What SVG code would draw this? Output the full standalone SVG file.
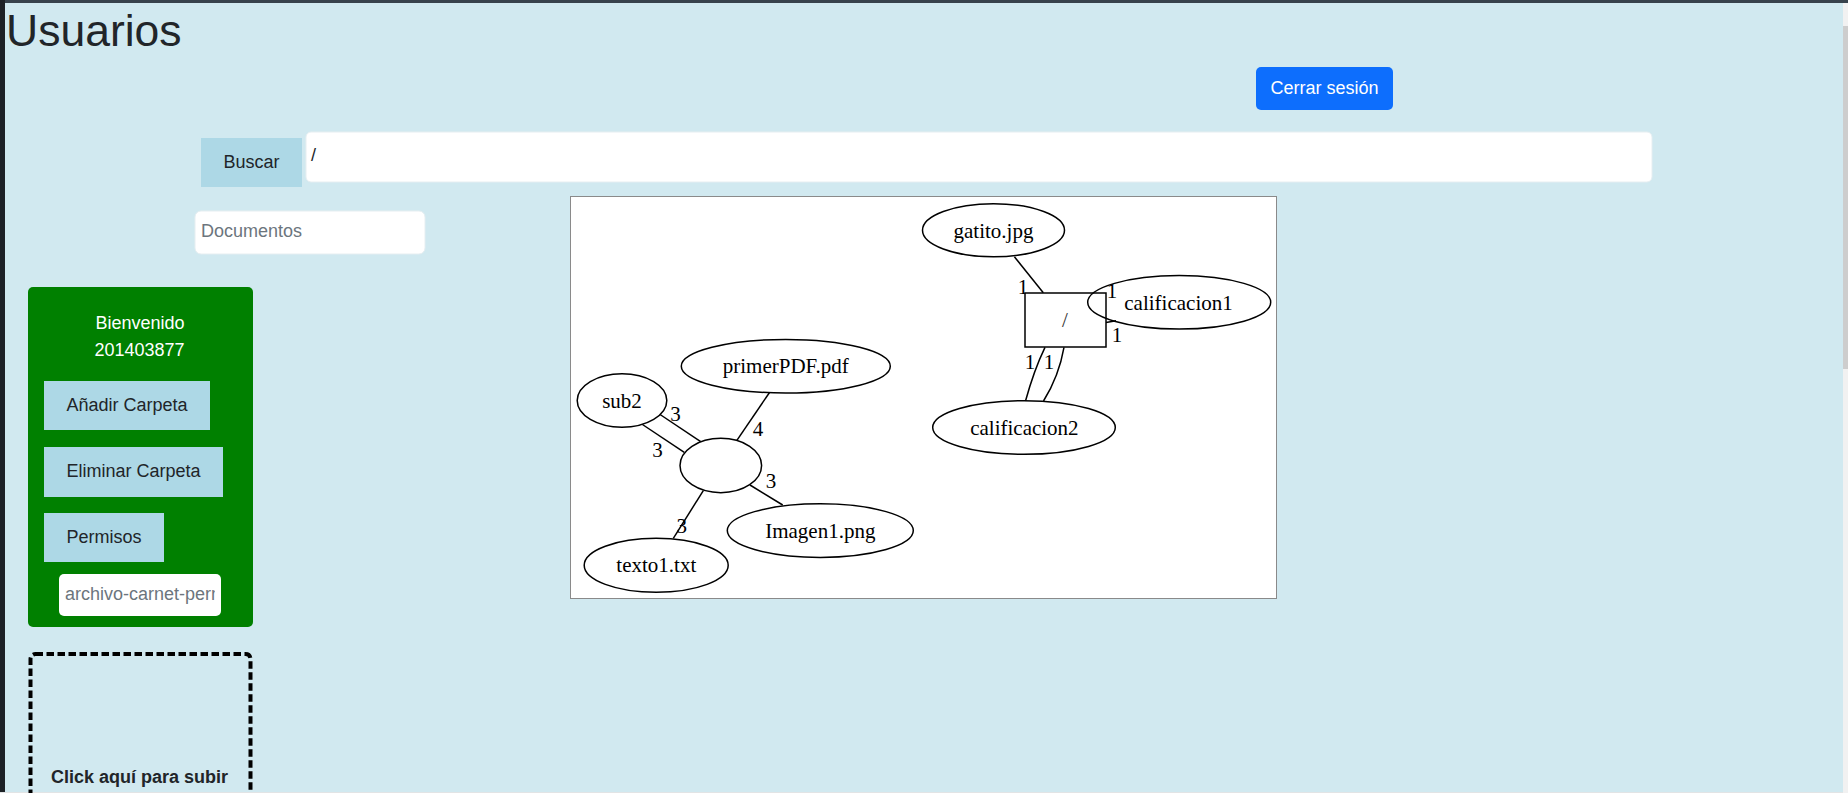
<svg xmlns="http://www.w3.org/2000/svg" width="1848" height="793" viewBox="0 0 1848 793">
<style>
.ui{font-family:"Liberation Sans",Arial,sans-serif;font-size:18px;fill:#212529}
.ctr{text-anchor:middle}
.btn{fill:#add8e6}
.inp{fill:#ffffff;stroke:#e6eef1;stroke-width:1}
.ph{fill:#6c757d}
.g{font-family:"Liberation Serif","Times New Roman",serif;font-size:21px;fill:#000;text-anchor:middle}
.nd{fill:#ffffff;stroke:#000;stroke-width:1.5}
.ed{fill:none;stroke:#000;stroke-width:1.5}
</style>
<defs>
<clipPath id="clipArch"><rect x="61" y="576" width="154" height="38"/></clipPath>
</defs>
<rect x="0" y="0" width="1848" height="793" fill="#d1e9f0"/>
<rect x="0" y="0" width="1848" height="3" fill="#37424c"/>
<rect x="0" y="0" width="5" height="793" fill="#1d2126"/>
<rect x="1843" y="3" width="5" height="790" fill="#f1f1f1"/>
<rect x="1843" y="26" width="5" height="343" fill="#cdcdcd"/>
<rect x="0" y="792" width="1843" height="1" fill="#e2e4e5"/>

<g id="title"><text class="ui" x="6" y="46" style="font-size:44.5px">Usuarios</text></g>

<g id="cerrar">
<rect x="1256" y="67" width="137" height="43" rx="5" fill="#0d6efd"/>
<text class="ui ctr" x="1324.5" y="94" style="fill:#fff">Cerrar sesión</text>
</g>

<g id="buscar">
<rect class="btn" x="201" y="138" width="101" height="49"/>
<text class="ui ctr" x="251.5" y="168">Buscar</text>
</g>
<g id="ruta">
<rect class="inp" x="306" y="132" width="1346" height="50" rx="5"/>
<text class="ui" x="311" y="161">/</text>
</g>
<g id="documentos">
<rect class="inp" x="195" y="211" width="230" height="43" rx="6"/>
<text class="ui ph" x="201" y="237">Documentos</text>
</g>

<g id="panel">
<rect x="28" y="287" width="225" height="340" rx="5" fill="#008000"/>
<text class="ui ctr" x="140" y="329" style="fill:#fff">Bienvenido</text>
<text class="ui ctr" x="139.5" y="356" style="fill:#fff">201403877</text>
</g>
<g id="anadir">
<rect class="btn" x="44" y="381" width="166" height="49"/>
<text class="ui ctr" x="127" y="411">Añadir Carpeta</text>
</g>
<g id="eliminar">
<rect class="btn" x="44" y="447" width="179" height="50"/>
<text class="ui ctr" x="133.5" y="477">Eliminar Carpeta</text>
</g>
<g id="permisos">
<rect class="btn" x="44" y="513" width="120" height="49"/>
<text class="ui ctr" x="104" y="543">Permisos</text>
</g>
<g id="archivo">
<rect x="59" y="574" width="162" height="42" rx="5" fill="#fff"/>
<text class="ui ph" x="65" y="600" clip-path="url(#clipArch)">archivo-carnet-perm</text>
</g>

<g id="subir">
<rect x="30.5" y="654" width="220" height="160" rx="5" fill="none" stroke="#000" stroke-width="4" stroke-dasharray="7.5 3.5"/>
<text class="ui ctr" x="139.5" y="783" style="font-weight:bold">Click aquí para subir</text>
</g>

<g id="grafo">
<rect x="570.5" y="196.5" width="706" height="402" fill="#fff" stroke="#8a8a8a" stroke-width="1"/>
</g>

<g id="connectors">
<path class="ed" d="M659.3,414 L700.7,441.7"/>
<path class="ed" d="M641.7,424 L684.3,452.3"/>
<path class="ed" d="M769.5,392.5 L736.7,440.7"/>
<path class="ed" d="M750,485 L782.7,505"/>
<path class="ed" d="M703.3,490.7 L673.3,538.3"/>
<path class="ed" d="M1014.4,256.7 L1043.3,292.7"/>
<path class="ed" d="M1045,347.3 Q1034,370 1025.5,401"/>
<path class="ed" d="M1064,347.3 Q1059,376 1043.5,401"/>
<path class="ed" d="M1106,322.5 Q1110,321.8 1116,320.8"/>
<text class="g" x="675.5" y="421">3</text>
<text class="g" x="657.5" y="457">3</text>
<text class="g" x="758" y="436">4</text>
<text class="g" x="771" y="488">3</text>
<text class="g" x="681.7" y="533">3</text>
<text class="g" x="1023" y="294">1</text>
<text class="g" x="1112" y="298">1</text>
<text class="g" x="1117" y="342">1</text>
<text class="g" x="1030" y="369">1</text>
<text class="g" x="1049" y="369">1</text>
</g>

<g id="n-gatito"><ellipse class="nd" cx="993.5" cy="230.3" rx="71" ry="26.5"/><text class="g" x="993.5" y="237.5">gatito.jpg</text></g>
<g id="n-raiz"><rect class="nd" x="1025" y="293" width="81" height="54"/><text class="g" x="1065" y="327" style="fill:#333">/</text></g>
<g id="n-calificacion1"><ellipse class="nd" cx="1179.2" cy="302.3" rx="91.5" ry="26.8" style="fill:none"/><text class="g" x="1178.5" y="309.5">calificacion1</text></g>
<g id="n-calificacion2"><ellipse class="nd" cx="1024" cy="427.5" rx="91.3" ry="26.8"/><text class="g" x="1024.4" y="434.5">calificacion2</text></g>
<g id="n-primerPDF"><ellipse class="nd" cx="785.8" cy="366.2" rx="104.5" ry="26.8"/><text class="g" x="785.8" y="373.3">primerPDF.pdf</text></g>
<g id="n-sub2"><ellipse class="nd" cx="622" cy="400.5" rx="44.8" ry="26.8"/><text class="g" x="622" y="407.5">sub2</text></g>
<g id="n-carpeta"><ellipse class="nd" cx="720.8" cy="465.5" rx="40.8" ry="27.2"/></g>
<g id="n-imagen1"><ellipse class="nd" cx="820.3" cy="530.6" rx="93" ry="26.8"/><text class="g" x="820.3" y="538.3">Imagen1.png</text></g>
<g id="n-texto1"><ellipse class="nd" cx="656.2" cy="565.3" rx="72" ry="27"/><text class="g" x="656.3" y="572">texto1.txt</text></g>
</svg>
